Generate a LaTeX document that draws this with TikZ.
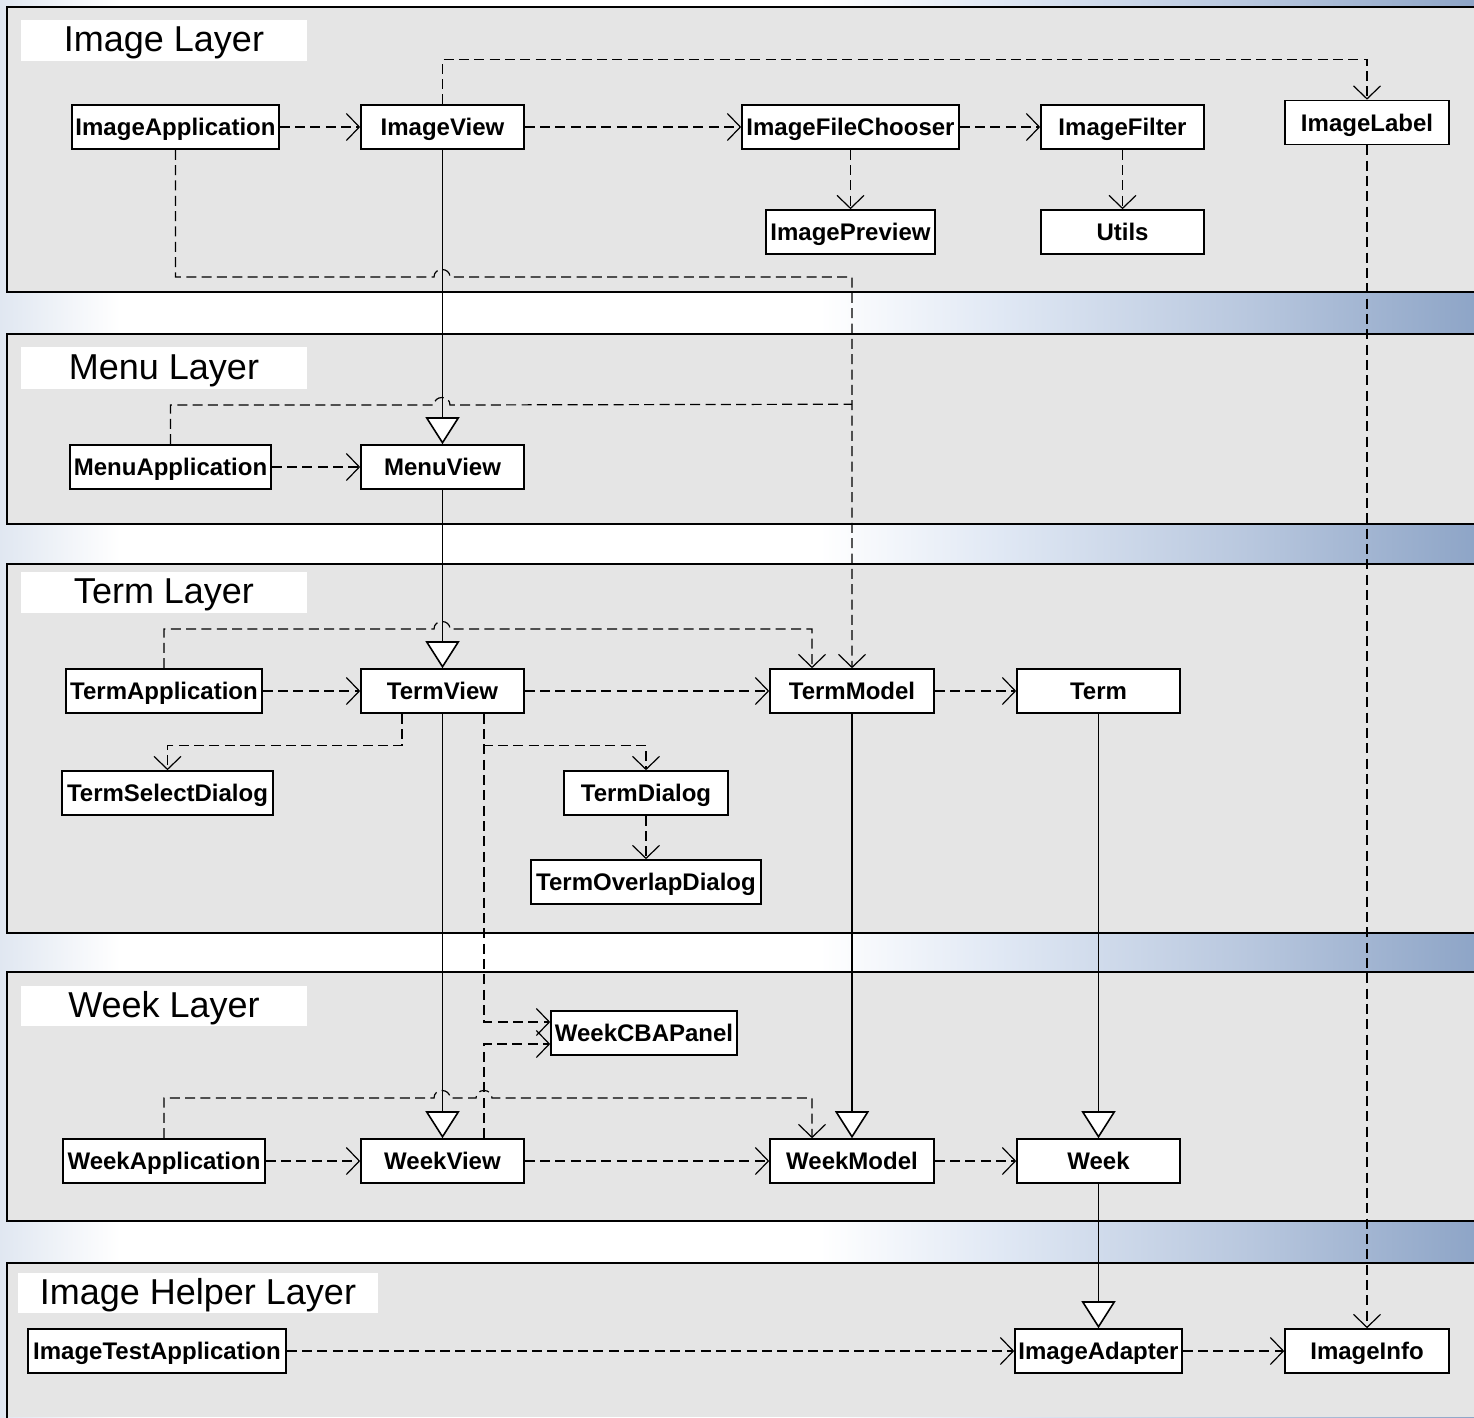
\documentclass[tikz,border=0pt]{standalone}
\usepackage{fontspec}
\setmainfont{Liberation Sans}
\usetikzlibrary{arrows.meta,calc}

\definecolor{panelgray}{HTML}{E5E5E5}
\definecolor{bgleft}{HTML}{E0E7F1}
\definecolor{bglight}{HTML}{E0E8F4}
\definecolor{bgmid}{HTML}{B8C7DE}
\definecolor{bgdark}{HTML}{8EA5C7}

\tikzset{
  panel/.style={line width=1.5pt, line cap=rect},
  layertitle/.style={font=\fontsize{27}{27}\selectfont, anchor=center,
    inner sep=0pt, text height=19.4pt, text depth=0pt},
  cls/.style={draw, line width=1.2pt, fill=white, inner sep=0pt,
    minimum height=33pt, text height=13pt, text depth=0pt,
    font=\bfseries\fontsize{18}{18}\selectfont},
  dep/.style={draw, line width=0.9pt, dash pattern=on 7.5pt off 4pt,
    -{Straight Barb[length=9.75pt,width=20.25pt]}},
  inh/.style={draw, line width=0.9pt,
    -{Triangle[length=20.25pt,width=25.5pt,fill=white,line width=1.2pt]}},
}

\begin{document}
\begin{tikzpicture}[x=0.75pt,y=-0.75pt]
\useasboundingbox (0,0) rectangle (1474,1417);

% backdrop behind the layers
\shade[left color=bgleft,right color=white] (0,0) rectangle (120,1417);
\fill[white] (120,0) rectangle (820,1417);
\shade[left color=white,right color=bglight] (820,0) rectangle (1000,1417);
\shade[left color=bglight,right color=bgmid] (1000,0) rectangle (1250,1417);
\shade[left color=bgmid,right color=bgdark] (1250,0) rectangle (1474,1417);

% layer panels (open to the right)
\foreach \top/\bot in {7/292, 334/524, 564/933, 972/1221}{
  \fill[panelgray] (7,\top) rectangle (1474,\bot);
  \draw[panel] (1474,\top) -- (7,\top) -- (7,\bot) -- (1474,\bot);
}
\fill[panelgray] (7,1263) rectangle (1474,1417);
\draw[panel] (1474,1263) -- (7,1263) -- (7,1417);

% layer titles
\fill[white] (21,20) rectangle (307,61);
\node[layertitle] (tImage) at (164,39) {Image Layer};
\fill[white] (21,347) rectangle (307,389);
\node[layertitle] (tMenu) at (164,366.5) {Menu Layer};
\fill[white] (21,572) rectangle (307,613);
\node[layertitle] (tTerm) at (164,591) {Term Layer};
\fill[white] (21,986) rectangle (307,1026);
\node[layertitle] (tWeek) at (164,1004.5) {Week Layer};
\fill[white] (18,1273) rectangle (378,1313);
\node[layertitle] (tHelper) at (198,1292) {Image Helper Layer};

% classes
\node[cls, minimum width=155.25pt] (ia)  at (175.5,127) {ImageApplication};
\node[cls, minimum width=122.25pt] (iv)  at (442.5,127) {ImageView};
\node[cls, minimum width=162.75pt] (ifc) at (850.5,127) {ImageFileChooser};
\node[cls, minimum width=122.25pt] (if)  at (1122.5,127) {ImageFilter};
\node[cls, minimum width=123pt]    (il)  at (1367,122.5) {ImageLabel};
\node[cls, minimum width=126.75pt] (ip)  at (850.5,232) {ImagePreview};
\node[cls, minimum width=122.25pt] (ut)  at (1122.5,232) {Utils};

\node[cls, minimum width=150.75pt] (ma)  at (170.5,467) {MenuApplication};
\node[cls, minimum width=122.25pt] (mv)  at (442.5,467) {MenuView};

\node[cls, minimum width=147pt]    (tapp) at (164,691) {TermApplication};
\node[cls, minimum width=122.25pt] (tv)  at (442.5,691) {TermView};
\node[cls, minimum width=123pt]    (tm)  at (852,691) {TermModel};
\node[cls, minimum width=122.25pt] (tt)  at (1098.5,691) {Term};
\node[cls, minimum width=158.25pt] (tsd) at (167.5,793) {TermSelectDialog};
\node[cls, minimum width=123pt]    (td)  at (646,793) {TermDialog};
\node[cls, minimum width=172.5pt]  (tod) at (646,882) {TermOverlapDialog};

\node[cls, minimum width=139.5pt]  (wcb) at (644,1033) {WeekCBAPanel};
\node[cls, minimum width=151.5pt]  (wa)  at (164,1161) {WeekApplication};
\node[cls, minimum width=122.25pt] (wv)  at (442.5,1161) {WeekView};
\node[cls, minimum width=123pt]    (wm)  at (852,1161) {WeekModel};
\node[cls, minimum width=122.25pt] (wk)  at (1098.5,1161) {Week};

\node[cls, minimum width=193.5pt]  (ita) at (157,1351) {ImageTestApplication};
\node[cls, minimum width=125.25pt] (iad) at (1098.5,1351) {ImageAdapter};
\node[cls, minimum width=123pt]    (ii)  at (1367,1351) {ImageInfo};

% inheritance
\draw[inh] (iv.south) -- (mv.north);
\draw[inh] (mv.south) -- (tv.north);
\draw[inh] (tv.south) -- (wv.north);
\draw[inh] (tm.south) -- (wm.north);
\draw[inh] (tt.south) -- (wk.north);
\draw[inh] (wk.south) -- (iad.north);

% dependencies within rows
\draw[dep] (ia) -- (iv);
\draw[dep] (iv) -- (ifc);
\draw[dep] (ifc) -- (if);
\draw[dep] (ifc) -- (ip);
\draw[dep] (if) -- (ut);
\draw[dep] (ma) -- (mv);
\draw[dep] (tapp) -- (tv);
\draw[dep] (tv) -- (tm);
\draw[dep] (tm) -- (tt);
\draw[dep] (td) -- (tod);
\draw[dep] (wa) -- (wv);
\draw[dep] (wv) -- (wm);
\draw[dep] (wm) -- (wk);
\draw[dep] (ita) -- (iad);
\draw[dep] (iad) -- (ii);

% routed dependencies
\draw[dep] (iv.north) -- ++(0,-45) -| (il.north);
\draw[dep] (il.south) -- (ii.north);
\draw[dep] (ia.south) |- (434,277) .. controls (434,267) and (450,267) .. (450,277) -| (tm.north);
\path (tm.north) ++(0,-264) coordinate (mjoin);
\draw[dep, -] (ma.north) |- (434,405) .. controls (434,395) and (450,395) .. (450,405) -- (mjoin);
\draw[dep] (tapp.north) |- (434,629) .. controls (434,619) and (450,619) .. (450,629) -| ($(tm.north)+(-40,0)$);
\draw[dep] ($(tv.south)+(-40.5,0)$) -- ++(0,32) -| (tsd.north);
\draw[dep] ($(tv.south)+(41.5,0)$) -- ++(0,32) -| (td.north);
\draw[dep] ($(tv.south)+(41.5,0)$) |- ($(wcb.west)+(0,-11)$);
\draw[dep] ($(wv.north)+(41.5,0)$) |- ($(wcb.west)+(0,11)$);
\draw[dep] (wa.north) |- (434,1098) .. controls (434,1088) and (450,1088) .. (450,1098)
  -- (476,1098) .. controls (476,1088) and (492,1088) .. (492,1098) -| ($(wm.north)+(-40,0)$);
\end{tikzpicture}
\end{document}
